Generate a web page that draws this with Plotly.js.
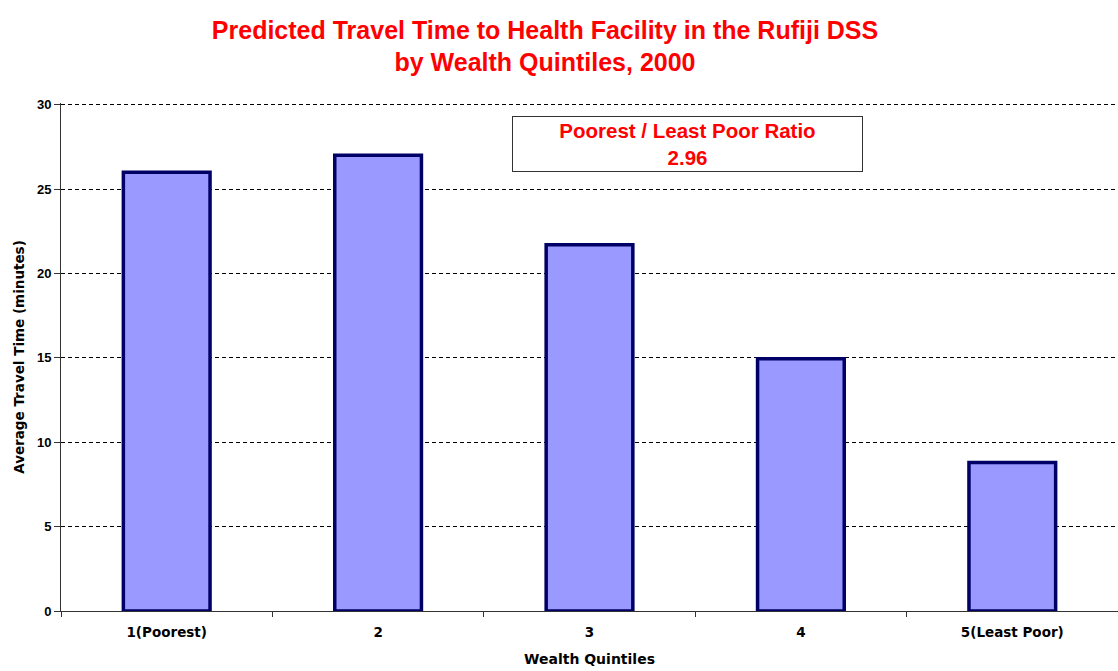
<!DOCTYPE html>
<html>
<head>
<meta charset="utf-8">
<script src="https://cdn.plot.ly/plotly-3.0.1.min.js"></script>
<style>html,body{margin:0;padding:0;background:#fff;}#chart{width:1118px;height:671px;}</style>
</head>
<body>
<div id="chart"></div>
<script>
const categories = ["1(Poorest)", "2", "3", "4", "5(Least Poor)"];
const travelTime = [26.0, 27.0, 21.7, 14.95, 8.8];
const ratioLabel = "Poorest / Least Poor Ratio<br>2.96";
const yTicks = [0, 5, 10, 15, 20, 25, 30];

const sans = "Liberation Sans, Arial, sans-serif";
const wide = "DejaVu Sans, Verdana, sans-serif";

const data = [{
  type: "bar",
  x: categories,
  y: travelTime,
  width: 0.41,
  marker: {color: "#9999FF", line: {color: "#000066", width: 3.5}},
  hoverinfo: "x+y"
}];

const layout = {
  width: 1118, height: 671,
  margin: {l: 61, r: 0, t: 103, b: 60},
  paper_bgcolor: "#ffffff",
  plot_bgcolor: "#ffffff",
  showlegend: false,
  font: {family: sans, color: "#000"},
  title: {
    text: "<b>Predicted Travel Time to Health Facility in the Rufiji DSS<br>by Wealth Quintiles, 2000</b>",
    font: {family: sans, size: 25, color: "#ff0000"},
    x: 0.4875, xanchor: "center", y: 0.942, yanchor: "top"
  },
  xaxis: {
    type: "category",
    showline: true, linecolor: "#333", linewidth: 1,
    ticks: "outside", ticklen: 5, tickcolor: "#333", tickson: "boundaries",
    ticklabelstandoff: 9,
    showgrid: false,
    tickfont: {family: wide, size: 13.5, color: "#000", weight: "bold"},
    title: {text: "<b>Wealth Quintiles</b>", font: {family: wide, size: 14, color: "#000"}, standoff: 14}
  },
  yaxis: {
    range: [0, 30.1],
    tickvals: yTicks,
    showline: true, linecolor: "#333", linewidth: 1,
    ticks: "outside", ticklen: 6, tickcolor: "#333",
    showgrid: true, gridcolor: "#000", griddash: "4px,3px", gridwidth: 1,
    zeroline: false,
    tickfont: {family: sans, size: 13, color: "#000", weight: "bold"},
    title: {text: "<b>Average Travel Time (minutes)</b>", font: {family: wide, size: 13.5, color: "#000"}, standoff: 9}
  },
  annotations: [{
    xref: "paper", yref: "paper",
    x: 0.593, y: 0.92, xanchor: "center", yanchor: "middle",
    text: "<b>" + ratioLabel + "</b>",
    showarrow: false,
    font: {family: sans, size: 20.5, color: "#ff0000"},
    bgcolor: "#ffffff",
    bordercolor: "#333", borderwidth: 1,
    width: 347, height: 52
  }]
};

Plotly.newPlot("chart", data, layout, {displayModeBar: false, staticPlot: true});
</script>
</body>
</html>
